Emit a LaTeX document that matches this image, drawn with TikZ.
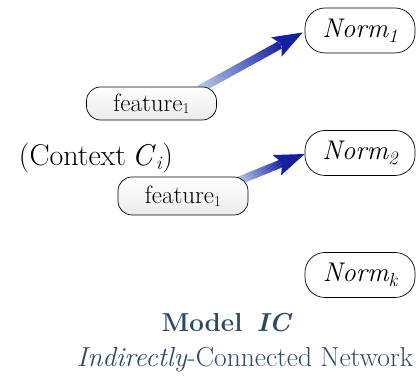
\documentclass[tikz,border=0pt]{standalone}
\usepackage{fontspec}
\usetikzlibrary{calc}
\definecolor{arrlight}{HTML}{B4C8EA}
\definecolor{arrdark}{HTML}{1520A0}
\definecolor{titleblue}{HTML}{2E4868}
\newcommand\lowsub[1]{\raisebox{-0.2em}{\fontsize{19}{22}\selectfont #1}}
\tikzset{
  normbox/.style={draw=black, line width=0.7pt, fill=white, rounded corners=20pt,
    minimum width=110pt, minimum height=45pt, inner sep=0pt,
    font=\itshape\fontsize{27}{30}\selectfont},
  featbox/.style={draw=black, line width=0.7pt, rounded corners=14pt,
    top color=white, bottom color=black!8, minimum width=130pt, inner sep=0pt,
    font=\fontsize{25}{28}\selectfont},
}
% gradient arrow: shaft built from short segments blending light to dark, solid head
\newcommand\gradarrow[2]{%
  \coordinate (ga-h) at ($(#2)!30pt!(#1)$);
  \coordinate (ga-n) at ($(#2)!24pt!(#1)$);
  \fill[black!25, opacity=0.35, shift={(1.5pt,-2.5pt)}]
    ($(#1)!4pt!90:(ga-h)$) -- ($(ga-n)!4pt!-90:(#1)$) -- ($(ga-h)!11pt!-90:(#1)$) -- (#2)
    -- ($(ga-h)!11pt!90:(#1)$) -- ($(ga-n)!4pt!90:(#1)$) -- ($(#1)!4pt!-90:(ga-h)$) -- cycle;
  \foreach \k in {0,...,39}{%
    \pgfmathsetmacro\pct{100*\k/39}%
    \fill[arrdark!\pct!arrlight]
      ($(#1)!\k/40!(ga-n)!4pt!90:(ga-n)$) -- ($(#1)!\k/40+1/40+0.002!(ga-n)!4pt!90:(ga-n)$)
      -- ($(#1)!\k/40+1/40+0.002!(ga-n)!4pt!-90:(ga-n)$) -- ($(#1)!\k/40!(ga-n)!4pt!-90:(ga-n)$) -- cycle;
  }%
  \fill[arrdark] (#2) -- ($(ga-h)!11pt!90:(#2)$) -- (ga-n) -- ($(ga-h)!11pt!-90:(#2)$) -- cycle;
}
\begin{document}
\begin{tikzpicture}[x=1pt, y=1pt]
\useasboundingbox (0,0) rectangle (417,385);

\node[normbox] (n1) at (360,354.5) {Norm\lowsub{1}};
\node[normbox] (n2) at (360,232) {Norm\lowsub{2}};
\node[normbox] (nk) at (360,110) {Norm\lowsub{k}};

\coordinate (f1) at (151.5,281.5);
\coordinate (f2) at (183,189);

\coordinate (s1) at (200,296);
\coordinate (t1) at ($(n1.west)+(-2,-2)$);
\coordinate (s2) at (238,204);
\coordinate (t2) at ($(n2.west)+(0,-1)$);
\gradarrow{s1}{t1}
\gradarrow{s2}{t2}

\node[featbox, minimum height=33pt] (fb1) at (f1) {feature\raisebox{-0.1em}{\fontsize{15}{16}\selectfont 1}};
\node[featbox, minimum height=38pt] (fb2) at (f2) {feature\raisebox{-0.1em}{\fontsize{15}{16}\selectfont 1}};

\node[font=\fontsize{30}{34}\selectfont] (ctx) at (96,227)
  {(Context\hspace{-0.1em} \textit{C}\raisebox{-0.12em}{\fontsize{19}{22}\selectfont\textit{i}})};

\node[text=titleblue, font=\bfseries\fontsize{26}{30}\selectfont] (title) at (227,62) {Model\, \textit{IC}};
\node[text=titleblue, font=\fontsize{27.5}{30}\selectfont] (sub) at (245,25) {\textit{Indirectly}-Connected Network};
\end{tikzpicture}
\end{document}
